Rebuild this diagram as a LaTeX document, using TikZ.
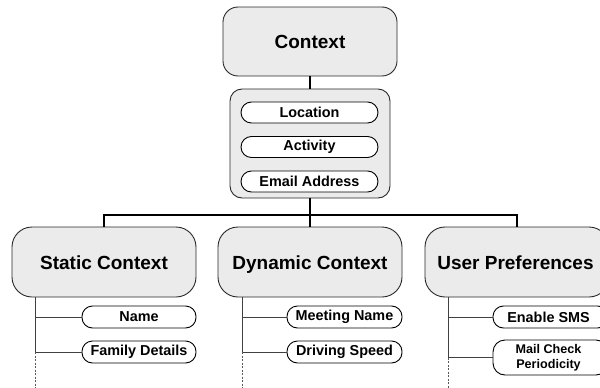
\documentclass[tikz,border=0pt]{standalone}
\usepackage{fontspec}
\setmainfont{Liberation Sans}
\definecolor{boxfill}{RGB}{235,235,235}
\definecolor{edge}{RGB}{40,40,40}
\begin{document}
\begin{tikzpicture}[x=1pt,y=-1pt,
  bigbox/.style={draw=edge,line width=0.9pt,fill=boxfill,rounded corners=20pt,minimum width=184pt,minimum height=70pt,inner sep=0pt,text height=16.2pt,text depth=1.5pt,font=\bfseries\fontsize{19}{22}\selectfont},
  holder/.style={draw=edge,line width=0.9pt,fill=boxfill,rounded corners=12pt,inner sep=0pt},
  pill/.style={draw=black,line width=0.9pt,fill=white,rounded corners=10.5pt,minimum height=21pt,inner sep=0pt,font=\bfseries\fontsize{14.4}{16}\selectfont},
  bar/.style={black,line width=1.4pt},
  twig/.style={black!75,line width=0.9pt},
  dots/.style={black!65,line width=0.8pt,dash pattern=on 2pt off 1.5pt}]
\useasboundingbox (0,0) rectangle (600,388);
\clip (0,0) rectangle (600,388);
% top
\node[bigbox,minimum width=174pt,minimum height=69pt,rounded corners=15pt] (ctx) at (310,41.5) {Context};
\node[holder,minimum width=160pt,minimum height=109pt] (hold) at (310,143.5) {};
\node[pill,minimum width=137pt] (loc) at (309.5,112.5) {Location};
\node[pill,minimum width=137pt] (act) at (309.5,147) {Activity};
\node[pill,minimum width=137pt] (mail) at (309.5,181.5) {Email Address};
% second level
\node[bigbox] (stat) at (104,262) {Static Context};
\node[bigbox] (dyn) at (310,262) {Dynamic Context};
\node[bigbox] (pref) at (517,262) {\hspace*{-3pt}User Preferences};
% connectors top
\coordinate (hub) at (310,215);
\draw[bar] (ctx.south) -- (hold.north);
\draw[bar] (hold.south) -- (hub);
\draw[bar] (stat.north) |- (hub) -| (pref.north);
\draw[bar] (dyn.north) -- (hub);
% static leaves
\node[pill,minimum width=114pt,minimum height=22pt] (name) at (139,317) {Name};
\node[pill,minimum width=114pt,minimum height=22pt] (fam) at (139,352) {Family Details};
\coordinate (sv) at (35,297);
\coordinate (se) at (35,388);
\draw[twig] (sv) |- (fam.west);
\draw[twig] (sv) |- (name.west);
\draw[dots] (sv |- fam.west) -- (se);
% dynamic leaves
\node[pill,minimum width=115pt,minimum height=22pt] (meet) at (344.5,317) {Meeting Name};
\node[pill,minimum width=115pt,minimum height=22pt] (drive) at (344.5,352) {Driving Speed};
\coordinate (dv) at (242,297);
\coordinate (de) at (242,388);
\draw[twig] (dv) |- (drive.west);
\draw[twig] (dv) |- (meet.west);
\draw[dots] (dv |- drive.west) -- (de);
% preference leaves
\node[pill,minimum width=115pt,minimum height=22pt] (sms) at (550.5,317) {\hspace*{-4pt}Enable SMS};
\node[pill,minimum width=115pt,minimum height=35pt,rounded corners=12pt,align=center,font=\bfseries\fontsize{12.6}{15}\selectfont] (chk) at (550.5,357.5) {\hspace*{-4pt}Mail Check\\\hspace*{-4pt}Periodicity};
\coordinate (pv) at (448,297);
\coordinate (pe) at (448,388);
\draw[twig] (pv) -- (pv |- chk.west) -- (chk.west);
\draw[twig] (pv) |- (sms.west);
\draw[dots] (pv |- chk.west) -- (pe);
\end{tikzpicture}
\end{document}
